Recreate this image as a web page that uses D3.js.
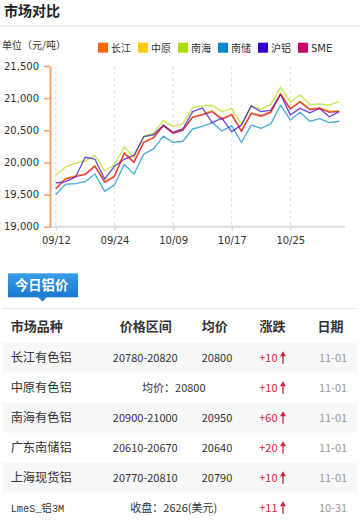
<!DOCTYPE html>
<html><head><meta charset="utf-8">
<script src="https://cdn.jsdelivr.net/npm/d3@7/dist/d3.min.js"></script>
<style>body{margin:0;background:#fff;}svg{display:block;}</style>
</head><body>
<script>
const dates = ["09/12","09/13","09/18","09/19","09/20","09/23","09/24","09/25","09/26","09/27","09/30","10/08","10/09","10/10","10/11","10/14","10/15","10/16","10/17","10/18","10/21","10/22","10/23","10/24","10/25","10/28","10/29","10/30","10/31","11/01"];
const tickLabels = ["09/12","09/24","10/09","10/17","10/25"];
const yTicks = [19000,19500,20000,20500,21000,21500];
const seriesNames = ["长江","中原","南海","南储","沪铝","SME"];
const seriesColors = ["#FF6600","#FFCC00","#AADD00","#0088CC","#3300CC","#CC0066"];
const changjiang = [19600,19750,19790,19820,19950,19700,19790,20150,20010,20320,20390,20580,20460,20510,20710,20750,20800,20680,20750,20490,20770,20730,20790,21070,20840,20950,20830,20850,20790,20800];
const zhongyuan = [19600,19750,19790,19820,19950,19700,19790,20150,20010,20320,20390,20580,20460,20510,20710,20750,20800,20680,20750,20500,20770,20710,20770,21070,20840,20950,20830,20850,20800,20800];
const nanhai = [19800,19930,19990,20020,20110,19870,19960,20240,20080,20410,20450,20650,20560,20600,20850,20880,20890,20790,20840,20590,20880,20830,20900,21170,20940,21050,20900,20910,20890,20950];
const nanchu = [19500,19660,19670,19700,19820,19550,19650,19970,19820,20130,20210,20410,20310,20330,20520,20560,20620,20490,20570,20310,20580,20530,20600,20890,20660,20780,20640,20680,20620,20640];
const hulv = [19680,19700,19770,20080,20050,19740,19940,20050,20110,20400,20430,20580,20470,20520,20790,20850,20620,20690,20480,20580,20880,20790,20810,21060,20740,20840,20770,20840,20710,20790];
const sme = [19590,19740,19780,19810,19940,19690,19780,20140,20000,20310,20380,20570,20450,20500,20700,20740,20790,20670,20740,20480,20760,20720,20780,21060,20830,20940,20820,20840,20780,20790];
const seriesValues = [changjiang, zhongyuan, nanhai, nanchu, hulv, sme];

const rowNames = ["长江有色铝","中原有色铝","南海有色铝","广东南储铝","上海现货铝","LmeS_铝3M"];
const rowRanges = ["20780-20820","均价：20800","20900-21000","20610-20670","20770-20810","收盘：2626(美元)"];
const rowAvgs = ["20800","","20950","20640","20790",""];
const rowChanges = ["+10","+10","+60","+20","+10","+11"];
const rowDates = ["11-01","11-01","11-01","11-01","11-01","10-31"];
const headers = ["市场品种","价格区间","均价","涨跌","日期"];

const W = 360, H = 522;
const cjk = "'Noto Sans CJK SC','Noto Sans',sans-serif";
const latin = "'DejaVu Sans',Verdana,sans-serif";
const svg = d3.select("body").append("svg").attr("width", W).attr("height", H);
svg.append("rect").attr("width", W).attr("height", H).attr("fill", "#fff");

// Title
svg.append("text").attr("x", 4).attr("y", 15.5).text("市场对比")
  .attr("font-family", cjk).attr("font-size", 14).attr("font-weight", "bold").attr("fill", "#222");
svg.append("rect").attr("x", 0).attr("y", 25).attr("width", W).attr("height", 2).attr("fill", "#f0f0f0");

// unit
svg.append("text").attr("x", 2).attr("y", 48.8).text("单位（元/吨）")
  .attr("font-family", cjk).attr("font-size", 10).attr("fill", "#333");

// legend
const leg = svg.append("g");
seriesNames.forEach((n, i) => {
  const x = 98 + i * 40;
  leg.append("rect").attr("x", x).attr("y", 42.7).attr("width", 10).attr("height", 10).attr("fill", seriesColors[i]);
  leg.append("text").attr("x", x + 13).attr("y", 51.5).text(n)
    .attr("font-family", i === 5 ? latin : cjk).attr("font-size", 10).attr("fill", "#333");
});

// scales
const x = d3.scalePoint().domain(dates).range([50, 345]).padding(0.6);
const y = d3.scaleLinear().domain([19000, 21500]).range([226.7, 66]);

// grid
const grid = svg.append("g");
tickLabels.forEach(d => {
  grid.append("line").attr("x1", x(d)).attr("x2", x(d)).attr("y1", 66).attr("y2", 226)
    .attr("stroke", "#ddd").attr("stroke-dasharray", "3,3").attr("stroke-width", 1);
});

// x axis
const xAxis = svg.append("g").attr("transform", "translate(0,226.7)")
  .call(d3.axisBottom(x).tickValues(tickLabels).tickSize(4).tickSizeOuter(0).tickPadding(6));
xAxis.select(".domain").attr("stroke", "#ddd").attr("stroke-width", 2);
xAxis.selectAll(".tick line").attr("stroke", "#ccc");
xAxis.selectAll("text").attr("font-family", latin).attr("font-size", 10).attr("fill", "#333");
xAxis.select(".domain").attr("d", "M50,0H345");

// y axis
const yAxis = svg.append("g").attr("transform", "translate(50,0)")
  .call(d3.axisLeft(y).tickValues(yTicks).tickSize(6).tickSizeOuter(0).tickPadding(5).tickFormat(d3.format(",")));
yAxis.select(".domain").attr("stroke", "#FFA060").attr("stroke-width", 2);
yAxis.selectAll(".tick line").attr("stroke", "#FFA060").attr("stroke-width", 1.5);
yAxis.selectAll("text").attr("font-family", latin).attr("font-size", 10).attr("fill", "#333");

// lines
const line = d3.line().x((d, i) => x(dates[i])).y(d => y(d));
seriesValues.forEach((vals, i) => {
  svg.append("path").attr("d", line(vals)).attr("fill", "none")
    .attr("stroke", seriesColors[i]).attr("stroke-opacity", 0.7).attr("stroke-width", 1.35)
    .attr("stroke-linejoin", "round");
});

// tab
const tab = svg.append("g");
tab.append("defs").append("linearGradient").attr("id", "tg").attr("x1", 0).attr("y1", 0).attr("x2", 0).attr("y2", 1)
  .selectAll("stop").data([["0%", "#3a9be6"], ["100%", "#1878cf"]]).join("stop")
  .attr("offset", d => d[0]).attr("stop-color", d => d[1]);
tab.append("rect").attr("x", 8).attr("y", 273.3).attr("width", 70).attr("height", 24).attr("fill", "url(#tg)");
tab.append("path").attr("d", "M38,297.3L42.5,301.5L47,297.3Z").attr("fill", "#1878cf");
tab.append("text").attr("x", 15).attr("y", 290.3).text("今日铝价")
  .attr("font-family", cjk).attr("font-size", 13.3).attr("font-weight", "bold").attr("fill", "#fff");
svg.append("rect").attr("x", 2).attr("y", 308).attr("width", 355).attr("height", 1.2).attr("fill", "#e6ecf6");

// header
const colX = [10.7, 145.8, 214.7, 272.5, 330.5];
headers.forEach((h, i) => {
  svg.append("text").attr("x", colX[i]).attr("y", 331.3).text(h)
    .attr("text-anchor", i === 0 ? "start" : "middle")
    .attr("font-family", cjk).attr("font-size", 13).attr("font-weight", "bold").attr("fill", "#333");
});

// rows
rowNames.forEach((n, i) => {
  const cy = 357.7 + 30 * i;
  if (i % 2 === 0) svg.append("rect").attr("x", 2).attr("y", cy - 15).attr("width", 355).attr("height", 30).attr("fill", "#f6f7f9");
  const isLme = i === 5;
  svg.append("text").attr("x", 10.7).attr("y", cy + 4.3).text(n)
    .attr("font-family", isLme ? "'Liberation Mono','Noto Sans CJK SC',monospace" : cjk)
    .attr("font-size", isLme ? 10.3 : 12.2).attr("fill", "#333");
  const merged = rowAvgs[i] === "";
  svg.append("text").attr("x", merged ? 173.8 : 145.3).attr("y", cy + 4).text(rowRanges[i])
    .attr("text-anchor", "middle").attr("font-family", cjk).attr("font-size", 11).attr("fill", "#333");
  if (!merged) svg.append("text").attr("x", 217).attr("y", cy + 4).text(rowAvgs[i])
    .attr("text-anchor", "middle").attr("font-family", cjk).attr("font-size", 11).attr("fill", "#333");
  svg.append("text").attr("x", 277.5).attr("y", cy + 4).text(rowChanges[i])
    .attr("text-anchor", "end").attr("font-family", cjk).attr("font-size", 11).attr("fill", "#d0233f");
  // up arrow
  const ax = 283;
  svg.append("line").attr("x1", ax).attr("x2", ax).attr("y1", cy - 5).attr("y2", cy + 6).attr("stroke", "#d0233f").attr("stroke-width", 1.3);
  svg.append("path").attr("d", `M${ax - 3},${cy - 1.5}L${ax},${cy - 6.5}L${ax + 3},${cy - 1.5}Z`).attr("fill", "#d0233f");
  svg.append("text").attr("x", 333).attr("y", cy + 4).text(rowDates[i])
    .attr("text-anchor", "middle").attr("font-family", cjk).attr("font-size", 11).attr("fill", "#999");
});
</script>
</body></html>
